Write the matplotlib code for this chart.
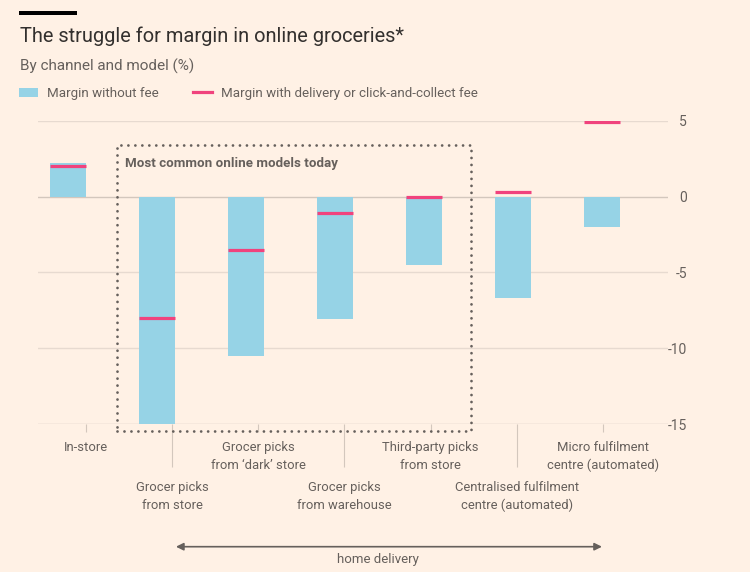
import numpy as np
import matplotlib.pyplot as plt
from matplotlib.patches import Patch, Rectangle
from matplotlib.lines import Line2D

# values
categories = [
    "In-store",
    "Grocer picks\nfrom store",
    "Grocer picks\nfrom \u2018dark\u2019 store",
    "Grocer picks\nfrom warehouse",
    "Third-party picks\nfrom store",
    "Centralised fulfilment\ncentre (automated)",
    "Micro fulfilment\ncentre (automated)",
]
margin_no_fee = [2.2, -15.0, -10.5, -8.1, -4.5, -6.7, -2.0]
margin_with_fee = [2.0, -8.0, -3.5, -1.1, 0.0, 0.3, 4.9]
y_ticks = [-15, -10, -5, 0, 5]

BG = "#fff1e5"
BLUE = "#96d3e6"
PINK = "#f0437d"
GREY = "#66605c"
DARK = "#33302e"
GRID = "#e7dad0"
AXIS = "#d3c7bd"

plt.rcParams["font.family"] = ["Roboto", "DejaVu Sans"]
plt.rcParams["axes.unicode_minus"] = False

W, H = 750, 572
fig = plt.figure(figsize=(W / 100, H / 100), dpi=100, facecolor=BG)


def fx(px):
    return px / W


def fy(py):
    return 1 - py / H


ax = fig.add_axes([fx(38), fy(424), fx(668) - fx(38), fy(120.7) - fy(424)])
ax.set_facecolor(BG)

x = np.arange(len(categories))
bar_w = 0.405
ax.bar(x, margin_no_fee, width=bar_w, color=BLUE, zorder=2)
ax.hlines(margin_with_fee, x - bar_w / 2, x + bar_w / 2, color=PINK, lw=2.3, zorder=3)

ax.set_xlim(-0.337, 6.742)
ax.set_ylim(-15, 5)

for s in ax.spines.values():
    s.set_visible(False)

# gridlines
for v in y_ticks:
    ax.axhline(v, color=AXIS if v in (0, -15) else GRID, lw=1, zorder=1)

ax.yaxis.tick_right()
ax.set_yticks(y_ticks)
ax.tick_params(axis="y", length=0, pad=13.7, labelsize=10, labelcolor=GREY)
for lab in ax.get_yticklabels():
    lab.set_ha("right")

# category labels alternate between two rows
label_pos = np.linspace(0.2, 6.01, len(categories))
ax.set_xticks(label_pos[0::2])
ax.set_xticklabels(categories[0::2])
ax.set_xticks(label_pos[1::2], minor=True)
ax.set_xticklabels(categories[1::2], minor=True)
ax.tick_params(axis="x", which="major", length=5.8, width=0.8, color=AXIS,
               pad=6.5, labelsize=9.4, labelcolor=GREY)
ax.tick_params(axis="x", which="minor", length=30.7, width=0.8, color=AXIS,
               pad=10.5, labelsize=9.4, labelcolor=GREY)
for lab in ax.get_xticklabels(which="both"):
    lab.set_linespacing(1.45)

# dotted box round the common models
box = Rectangle((0.551, -15.46), 4.528 - 0.551, 3.39 + 15.46, fill=False,
                ec=GREY, lw=2, ls=(0, (0.01, 2.5)), clip_on=False, zorder=4)
box.set_capstyle("round")
ax.add_patch(box)
ax.text(0.64, 2.16, "Most common online models today", fontsize=9.6,
        fontweight="bold", color=GREY, va="center", ha="left")

# home delivery arrow
ax.annotate("", xy=(1.213, fy(546.7)), xytext=(6.0, fy(546.7)),
            xycoords=("data", "figure fraction"), textcoords=("data", "figure fraction"),
            arrowprops=dict(arrowstyle="<|-|>", color=GREY, lw=1.2,
                            shrinkA=0, shrinkB=0, mutation_scale=11))
ax.annotate("home delivery", xy=(3.48, fy(559)),
            xycoords=("data", "figure fraction"), fontsize=9.5,
            color=GREY, ha="center", va="center")

# header
fig.add_artist(Rectangle((fx(19.3), fy(14.7)), fx(77.3) - fx(19.3), fy(10.7) - fy(14.7),
                         transform=fig.transFigure, color="black", lw=0))
fig.text(fx(20), fy(41.7), "The struggle for margin in online groceries*",
         fontsize=14.4, color=DARK, va="baseline")
fig.text(fx(20), fy(70.7), "By channel and model (%)",
         fontsize=11, color=GREY, va="baseline")

handles = [Patch(facecolor=BLUE), Line2D([], [], color=PINK, lw=2.3)]
fig.legend(handles, ["Margin without fee", "Margin with delivery or click-and-collect fee"],
           loc="upper left", bbox_to_anchor=(fx(19), fy(87)), ncol=2, frameon=False,
           fontsize=9.6, labelcolor=GREY, handlelength=1.42, handletextpad=0.68,
           columnspacing=2.55, borderpad=0, borderaxespad=0)

fig.savefig("out.png", dpi=100, facecolor=BG)
